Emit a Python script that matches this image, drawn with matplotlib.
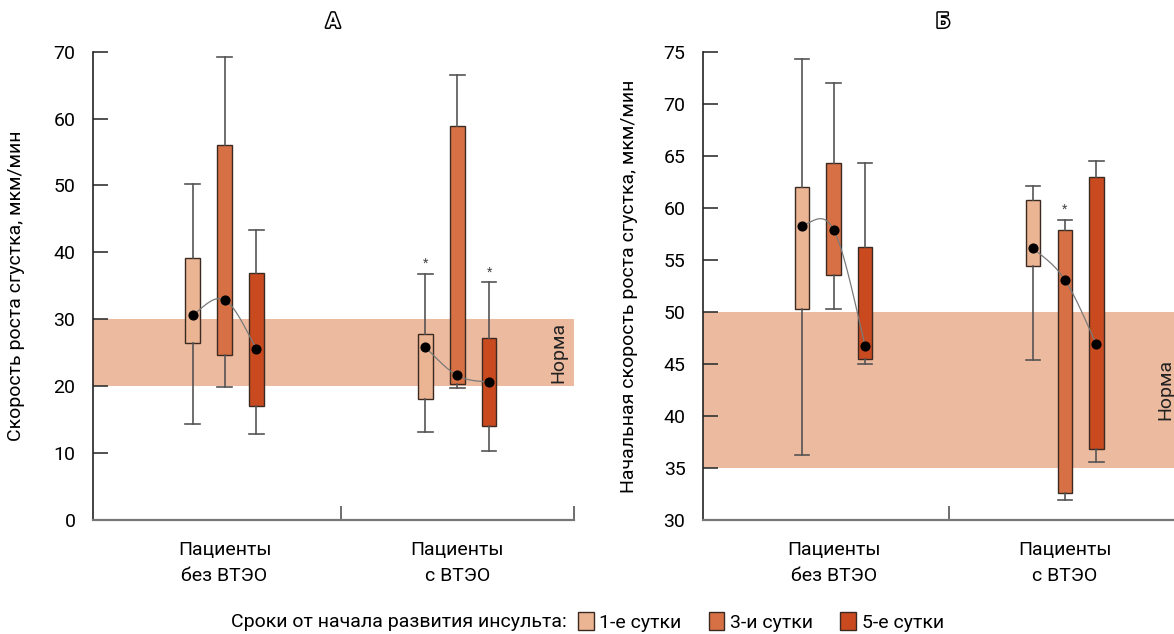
import numpy as np
import matplotlib
matplotlib.use("Agg")
import matplotlib.pyplot as plt
import matplotlib.patches as mpatches
import matplotlib.patheffects as pe

plt.rcParams['font.family'] = ['Roboto', 'DejaVu Sans']
plt.rcParams['font.size'] = 14

groups = ['Пациенты\nбез ВТЭО', 'Пациенты\nс ВТЭО']
days = ['1-е сутки', '3-и сутки', '5-е сутки']
colors = ['#EBB492', '#D77145', '#C94A1F']
band_color = '#ECBA9E'

# panel A: per group, per day -> (whislo, q1, dot, q3, whishi)
a_whislo = [[14.3, 19.9, 12.9], [13.2, 19.8, 10.3]]
a_q1 = [[26.4, 24.6, 17.1], [18.1, 20.3, 14.1]]
a_dot = [[30.6, 32.9, 25.6], [25.8, 21.6, 20.6]]
a_q3 = [[39.1, 56.1, 36.9], [27.8, 58.9, 27.2]]
a_whishi = [[50.2, 69.2, 43.3], [36.8, 66.5, 35.5]]
a_star = [[False, False, False], [True, False, True]]
a_norm = (20, 30)

# panel B
b_whislo = [[36.2, 50.3, 45.0], [45.4, 31.9, 35.6]]
b_q1 = [[50.25, 53.5, 45.5], [54.4, 32.6, 36.85]]
b_dot = [[58.25, 57.9, 46.7], [56.1, 53.1, 46.9]]
b_q3 = [[62.0, 64.3, 56.2], [60.7, 57.9, 63.0]]
b_whishi = [[74.3, 72.0, 64.3], [62.1, 58.8, 64.45]]
b_star = [[False, False, False], [False, True, False]]
b_norm = (35, 50)


def smooth(xs, ys, n=50):
    xs = np.asarray(xs, float)
    ys = np.asarray(ys, float)
    d = np.diff(ys) / np.diff(xs)
    m1 = (ys[2] - ys[0]) / (xs[2] - xs[0])
    m = [(3 * d[0] - m1) / 2, m1, (3 * d[1] - m1) / 2]
    m = [(m[0] + d[0]) / 2, m1, (m[2] + d[1]) / 2]
    px, py = [], []
    for i in range(2):
        h = xs[i + 1] - xs[i]
        t = np.linspace(0, 1, n)
        h00 = 2 * t**3 - 3 * t**2 + 1
        h10 = t**3 - 2 * t**2 + t
        h01 = -2 * t**3 + 3 * t**2
        h11 = t**3 - t**2
        px.append(xs[i] + h * t)
        py.append(h00 * ys[i] + h10 * h * m[i] + h01 * ys[i + 1] + h11 * h * m[i + 1])
    return np.concatenate(px), np.concatenate(py)


def panel(ax, whislo, q1, dot, q3, whishi, star, norm, ylim, yticks, xlim, xmaj):
    offset = 0.137
    width = 0.062
    ax.axhspan(norm[0], norm[1], color=band_color, zorder=0, lw=0)
    for g in range(len(groups)):
        xs = [g + (k - 1) * offset for k in range(3)]
        for k in range(3):
            stats = [dict(med=dot[g][k], mean=dot[g][k], q1=q1[g][k], q3=q3[g][k],
                          whislo=whislo[g][k], whishi=whishi[g][k], fliers=[])]
            ax.bxp(stats, positions=[xs[k]], widths=width, capwidths=width,
                   patch_artist=True, showmeans=False, manage_ticks=False,
                   boxprops=dict(facecolor=colors[k], edgecolor='#3b2a22', lw=1.0),
                   whiskerprops=dict(color='#555555', lw=1.2),
                   capprops=dict(color='#555555', lw=1.2),
                   medianprops=dict(lw=0), zorder=2)
            if star[g][k]:
                ax.annotate('*', xy=(xs[k], whishi[g][k]), xytext=(0, 3),
                            textcoords='offset points', ha='center', va='bottom',
                            fontsize=9, color='#444444')
        cx, cy = smooth(xs, dot[g])
        ax.plot(cx, cy, color='#7a7a7a', lw=0.9, zorder=3)
        ax.plot(xs, dot[g], 'o', color='black', ms=6.3, zorder=4)
    ax.set_xlim(*xlim)
    ax.set_ylim(*ylim)
    ax.set_yticks(yticks)
    ax.set_xticks(xmaj)
    ax.set_xticklabels([])
    ax.set_xticks(range(len(groups)), minor=True)
    ax.set_xticklabels(groups, minor=True, linespacing=1.55)
    ax.tick_params(axis='x', which='major', direction='in', length=10, width=1.2, color='#555555')
    ax.tick_params(axis='x', which='minor', length=0, pad=15)
    ax.tick_params(axis='y', direction='in', length=10.5, width=1.2, color='#333333', pad=13)
    for s in ['top', 'right']:
        ax.spines[s].set_visible(False)
    ax.spines['left'].set_color('#222222')
    ax.spines['left'].set_linewidth(1.2)
    ax.spines['bottom'].set_color('#777777')
    ax.spines['bottom'].set_linewidth(1.6)
    ax.text(1.435, (norm[0] + norm[1]) / 2, 'Норма', rotation=90, ha='center',
            va='center', fontsize=14, color='#222222')


fig = plt.figure(figsize=(11.74, 6.34), dpi=100)
ax1 = fig.add_axes([0.0796, 0.1798, 0.4091, 0.7387])
ax2 = fig.add_axes([0.5992, 0.1798, 0.4008, 0.7387])

panel(ax1, a_whislo, a_q1, a_dot, a_q3, a_whishi, a_star, a_norm,
      (0, 70), range(0, 71, 10), (-0.563, 1.5), [0.5, 1.5])
panel(ax2, b_whislo, b_q1, b_dot, b_q3, b_whishi, b_star, b_norm,
      (30, 75), range(30, 76, 5), (-0.563, 1.473), [0.5])

ax1.set_ylabel('Скорость роста сгустка, мкм/мин', fontsize=14)
ax1.yaxis.set_label_coords(-0.143, 0.5)
ax2.set_ylabel('Начальная скорость роста сгустка, мкм/мин', fontsize=14)
ax2.yaxis.set_label_coords(-0.14, 0.5)

outline = [pe.withStroke(linewidth=2.2, foreground='black')]
fig.text(333 / 1174, 1 - 22 / 634, 'А', ha='center', va='center', fontsize=15,
         fontweight='bold', color='white', path_effects=outline)
fig.text(943 / 1174, 1 - 22 / 634, 'Б', ha='center', va='center', fontsize=15,
         fontweight='bold', color='white', path_effects=outline)

fig.text(567 / 1174, 1 - 622 / 634, 'Сроки от начала развития инсульта:',
         ha='right', va='center', fontsize=14)
handles = [mpatches.Patch(facecolor=c, edgecolor='#3b2a22', lw=1.0) for c in colors]
fig.legend(handles, days, ncol=3, loc='center left', frameon=False,
           bbox_to_anchor=(578 / 1174, 1 - 622 / 634), fontsize=14,
           handlelength=0.8, handleheight=1.0, handletextpad=0.3,
           columnspacing=1.4, borderpad=0, borderaxespad=0)

fig.savefig('out.png', dpi=100)
